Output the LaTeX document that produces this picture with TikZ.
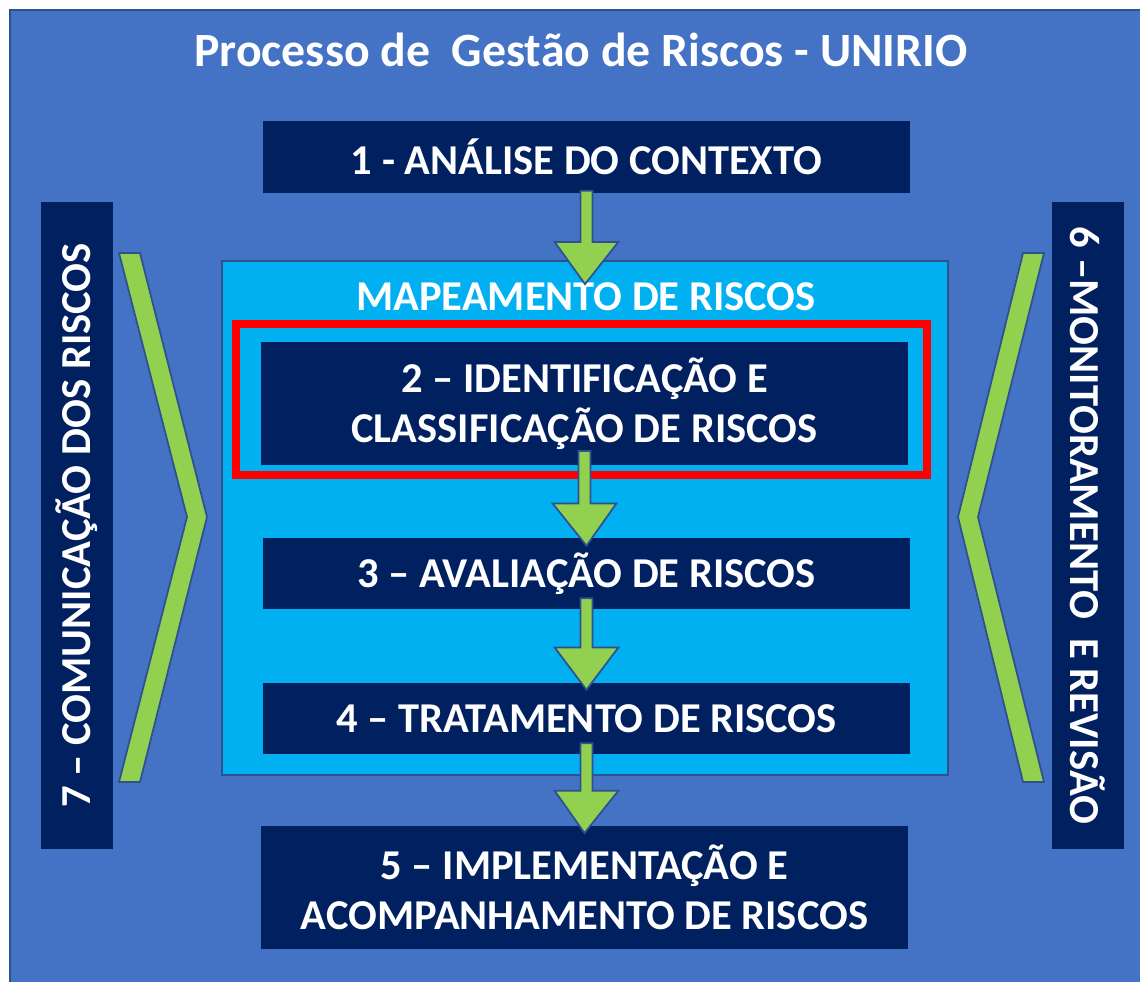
\documentclass[tikz,border=0pt]{standalone}
\usepackage{fontspec}
\setmainfont{Carlito}
\usetikzlibrary{calc}

\definecolor{bgblue}{HTML}{4472C4}
\definecolor{edgeblue}{HTML}{2F528F}
\definecolor{navy}{HTML}{002060}
\definecolor{skyblue}{HTML}{00B0F0}
\definecolor{leafgreen}{HTML}{92D050}

\newcommand\titlefont{\fontsize{27.2}{32}\selectfont\bfseries}
\newcommand\boxfont{\fontsize{24.2}{28.3}\selectfont\bfseries}
\newcommand\sidefont{\fontsize{24.3}{28}\selectfont\bfseries}

% green block arrow between two points
\newcommand\greenarrow[2]{%
  \draw[greenarrowstyle] let \p1=(#1), \p2=(#2) in
    (\x1-3.4pt,\y1) -- (\x1+3.4pt,\y1) -- (\x1+3.4pt,\y2+24pt)
    -- (\x1+18.1pt,\y2+24pt) -- (\x2,\y2) -- (\x1-18.1pt,\y2+24pt)
    -- (\x1-3.4pt,\y2+24pt) -- cycle;}

\tikzset{
  navybox/.style={fill=navy, text=white, font=\boxfont, align=center,
    inner sep=0pt, outer sep=0pt, minimum width=12.94cm, minimum height=1.43cm},
  sidebox/.style={navybox, font=\sidefont, minimum height=1.44cm},
  greenarrowstyle/.style={fill=leafgreen, draw=edgeblue, line width=1pt, line join=miter},
  chevron/.style={fill=leafgreen, draw=edgeblue, line width=1pt}
}

\begin{document}
\begin{tikzpicture}[x=0.02cm, y=-0.02cm]
\useasboundingbox (0,0) rectangle (1140,982);
\fill[white] (0,0) rectangle (1140,982);
\filldraw[fill=bgblue, draw=edgeblue, line width=1.2pt] (10,10) rectangle (1150,992); % frame

% side boxes
\node[sidebox, rotate=90] (comm) at (77,525.5) {7 – COMUNICAÇÃO DOS RISCOS};
\node[sidebox, rotate=-90] (monit) at (1088,525.5) {6 –MONITORAMENTO\ \ E REVISÃO};

% chevrons
\draw[chevron] (119,253) -- (140,253) -- (207,517) -- (140,782) -- (119,782) -- (187,517) -- cycle;
\draw[chevron] (1044,253) -- (1023,253) -- (958,517) -- (1023,782) -- (1044,782) -- (978,517) -- cycle;

% mapping area
\node[fill=skyblue, draw=edgeblue, line width=1pt, inner sep=0pt,
  minimum width=14.52cm, minimum height=10.28cm] (map) at (585,518) {};
\node[text=white, font=\boxfont] (maptitle) at (586,297) {MAPEAMENTO DE RISCOS};
\node[draw=red, line width=4.5pt, inner sep=0pt,
  minimum width=13.82cm, minimum height=3.02cm] (focus) at (581.5,399.5) {};

\node[text=white, font=\titlefont] (title) at (581,50) {Processo de\ \ Gestão de Riscos - UNIRIO};

% steps
\node[navybox] (b1) at (586.5,157) {1 - ANÁLISE DO CONTEXTO};
\node[navybox, minimum height=2.46cm] (b2) at (584.5,403.5) {2 – IDENTIFICAÇÃO E\\CLASSIFICAÇÃO DE RISCOS};
\node[navybox] (b3) at (586.5,573.5) {3 – AVALIAÇÃO DE RISCOS};
\node[navybox] (b4) at (586.5,718.5) {4 – TRATAMENTO DE RISCOS};
\node[navybox, minimum height=2.46cm] (b5) at (584.5,887.5) {5 – IMPLEMENTAÇÃO E\\ACOMPANHAMENTO DE RISCOS};

% arrows
\greenarrow{$(b1.south)+(0,-2)$}{$(map.north)+(0,24)$}
\greenarrow{$(b2.south)+(0,-14)$}{$(b3.north)+(0,8)$}
\greenarrow{$(b3.south)+(0,-11)$}{$(b4.north)+(0,7)$}
\greenarrow{$(b4.south)+(0,-11)$}{$(b5.north)+(0,7)$}
\end{tikzpicture}
\end{document}
